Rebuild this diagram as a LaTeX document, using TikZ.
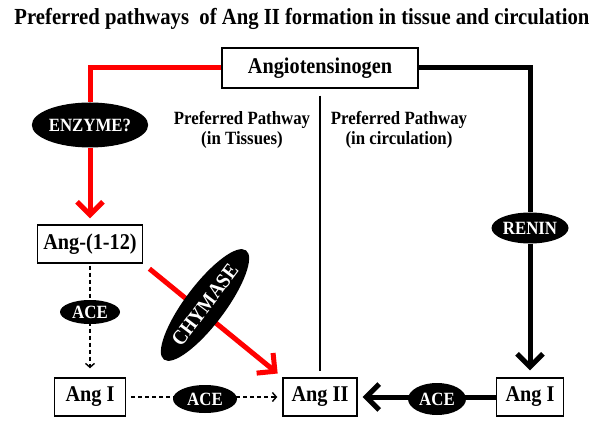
\documentclass[tikz,border=0pt]{standalone}
\usepackage{fontspec}
\setmainfont{Liberation Serif}[FakeStretch=0.9]
\usetikzlibrary{arrows.meta,shapes.geometric}
\begin{document}
\begin{tikzpicture}[x=1pt, y=-1pt,
    box/.style={rectangle, draw, line width=1.4pt, inner sep=0pt, minimum height=38pt, font=\fontsize{22.5}{26}\selectfont\bfseries},
    enzyme/.style={ellipse, fill=black, text=white, inner sep=0pt, font=\fontsize{18.7}{22}\selectfont\bfseries},
    note/.style={align=center, font=\fontsize{18.7}{20}\selectfont\bfseries},
    redline/.style={draw=red, line width=5pt},
    blkline/.style={draw=black, line width=5pt},
    bigtip/.style={-{Straight Barb[length=13pt,width=26pt]}},
    dashline/.style={line width=1.4pt, dash pattern=on 4pt off 3pt, -{Straight Barb[length=4pt,width=9pt]}},
]
\useasboundingbox (0,0) rectangle (604,427);

% Titel
\node[font=\fontsize{23}{27}\selectfont\bfseries] (title) at (302,19) {Preferred pathways\ \ of Ang II formation in tissue and circulation};

% Kaestchen
\node[box, minimum width=196pt, minimum height=40pt] (agt) at (320,68) {Angiotensinogen};
\node[box, minimum width=105pt] (a112) at (90,244) {Ang-(1-12)};
\node[box, minimum width=71pt] (angIl) at (90,397) {Ang I};
\node[box, minimum width=74pt] (ang2) at (320,397) {Ang II};
\node[box, minimum width=67pt] (angIr) at (530,397) {Ang I};

% Beschriftung der Wege
\node[note] (tis) at (242,130) {Preferred Pathway\\(in Tissues)};
\node[note] (circ) at (399,130) {Preferred Pathway\\(in circulation)};

% Enzyme an den Wegen
\node[enzyme, minimum width=99pt, minimum height=45pt] (enz) at (90,125) {ENZYME?};
\node[enzyme, minimum width=77pt, minimum height=31pt] (renin) at (530,228) {RENIN};

% Gewebe (rot)
\draw[redline] (agt.west) -| (enz.north);
\draw[redline, bigtip, shorten >=6pt] (enz.south) -- (a112.north);
\draw[redline, bigtip, shorten <=8pt, shorten >=6pt] (a112.south east) -- (ang2.north west);

% Kreislauf (schwarz)
\draw[blkline] (agt.east) -| (renin.north);
\draw[blkline, bigtip, shorten >=7pt] (renin.south) -- (angIr.north);
\draw[blkline, bigtip, shorten >=5pt] (angIr.west) -- (ang2.east);

% Trennlinie
\draw[line width=2.5pt, shorten <=7pt, shorten >=6pt] (agt.south) -- (ang2.north);

% ACE (gestrichelt)
\draw[dashline, shorten <=2pt, shorten >=9pt] (a112.south) -- (angIl.north);
\draw[dashline, shorten <=5pt, shorten >=5pt] (angIl.east) -- (ang2.west);

% Enzyme auf den Pfeilen
\node[enzyme, minimum width=60pt, minimum height=24pt] (ace1) at (90,312) {ACE};
\node[enzyme, minimum width=64pt, minimum height=28pt] (ace2) at (205,399) {ACE};
\node[enzyme, minimum width=58pt, minimum height=32pt] (ace3) at (437,399) {ACE};
\node[enzyme, rotate=53, minimum width=132pt, minimum height=40pt, font=\fontsize{21}{24}\selectfont\bfseries] (chy) at (205,305) {CHYMASE};

\end{tikzpicture}
\end{document}
